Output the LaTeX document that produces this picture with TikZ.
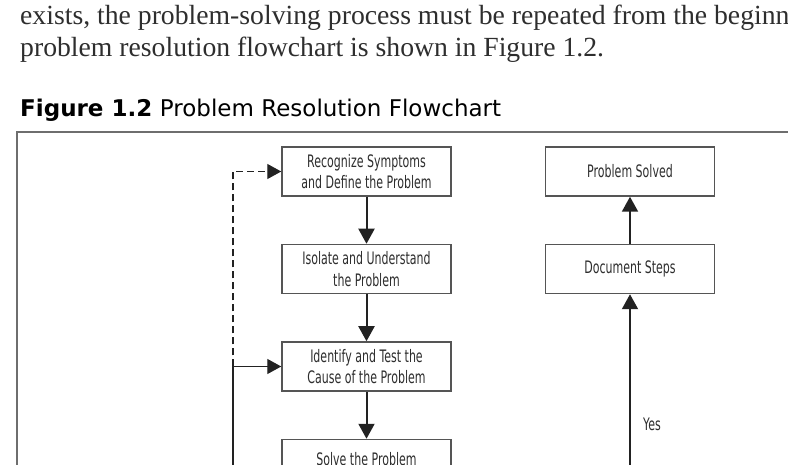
\documentclass[tikz,border=0pt]{standalone}
\usepackage{fontspec}
\usepackage{tikz}
\usetikzlibrary{arrows.meta,positioning}
\newfontfamily\bodyfont{Liberation Serif}
\newfontfamily\capfont{DejaVu Sans}
\newfontfamily\boxfont[FakeStretch=0.64]{DejaVu Sans}
\definecolor{PageInk}{HTML}{2E2E2E}
\definecolor{BoxEdge}{HTML}{555555}
\definecolor{FrameEdge}{HTML}{6E6E6E}
\definecolor{ArrowInk}{HTML}{222222}
\tikzset{
  bodytext/.style={font=\bodyfont\fontsize{27.7}{32}\selectfont, text=PageInk, inner sep=0pt},
  captext/.style={font=\capfont\fontsize{23}{26}\selectfont, text=black, inner sep=0pt},
  stepbox/.style={draw=BoxEdge, line width=1.5pt, fill=white, minimum width=169pt, minimum height=49pt,
    align=center, inner sep=2pt, font=\boxfont\fontsize{17.2}{21.5}\selectfont, text=PageInk},
  yeslabel/.style={font=\boxfont\fontsize{17.2}{21.5}\selectfont, text=PageInk, inner sep=0pt},
  flowarrow/.style={-{Triangle[length=15pt,width=16pt]}, line width=2pt, draw=ArrowInk},
  loopline/.style={-{Triangle[length=14pt,width=15pt]}, line width=1.4pt, draw=ArrowInk},
  framebox/.style={draw=FrameEdge, line width=1.6pt}
}

\begin{document}
\begin{tikzpicture}[x=1pt, y=-1pt]
\path[use as bounding box, clip] (0,0) rectangle (788,465);
% running text above the figure
\node[bodytext, anchor=base west] (line1) at (20,25) {exists, the problem-solving process must be repeated from the beginn};
\node[bodytext, anchor=base west] (line2) at (20,57) {problem resolution flowchart is shown in Figure 1.2.};
\node[captext, anchor=base west] (caption) at (20,117) {\textbf{Figure 1.2}\,\,Problem Resolution Flowchart};
% figure frame (runs off the page)
\draw[framebox] (17,500) -- (17,132) -- (820,132);
% left column
\node[stepbox] (recognize) at (366.5,171.5) {Recognize Symptoms\\and Define the Problem};
\node[stepbox, below=47pt of recognize] (isolate) {Isolate and Understand\\the Problem};
\node[stepbox, below=47pt of isolate] (cause) {Identify and Test the\\Cause of the Problem};
\node[stepbox, below=47pt of cause, text depth=11pt] (solve) {Solve the Problem};
% right column
\node[stepbox] (solved) at (630,171.5) {Problem Solved};
\node[stepbox, below=47pt of solved] (document) {Document Steps};
\draw[flowarrow] (recognize) -- (isolate);
\draw[flowarrow] (isolate) -- (cause);
\draw[flowarrow] (cause) -- (solve);
\draw[flowarrow] (document) -- (solved);
% loops back and the yes branch, coming from below
\coordinate (loopfoot) at (233,500);
\coordinate (yesfoot) at (630,500);
\coordinate (loopjoin) at (loopfoot |- cause.west);
\draw[loopline] (loopfoot) |- (cause.west);
\draw[loopline, dash pattern=on 7pt off 4pt] (loopjoin) |- (recognize.west);
\draw[flowarrow] (yesfoot) -- node[yeslabel, pos=0.37, right=12pt] {Yes} (document);
\end{tikzpicture}
\end{document}
